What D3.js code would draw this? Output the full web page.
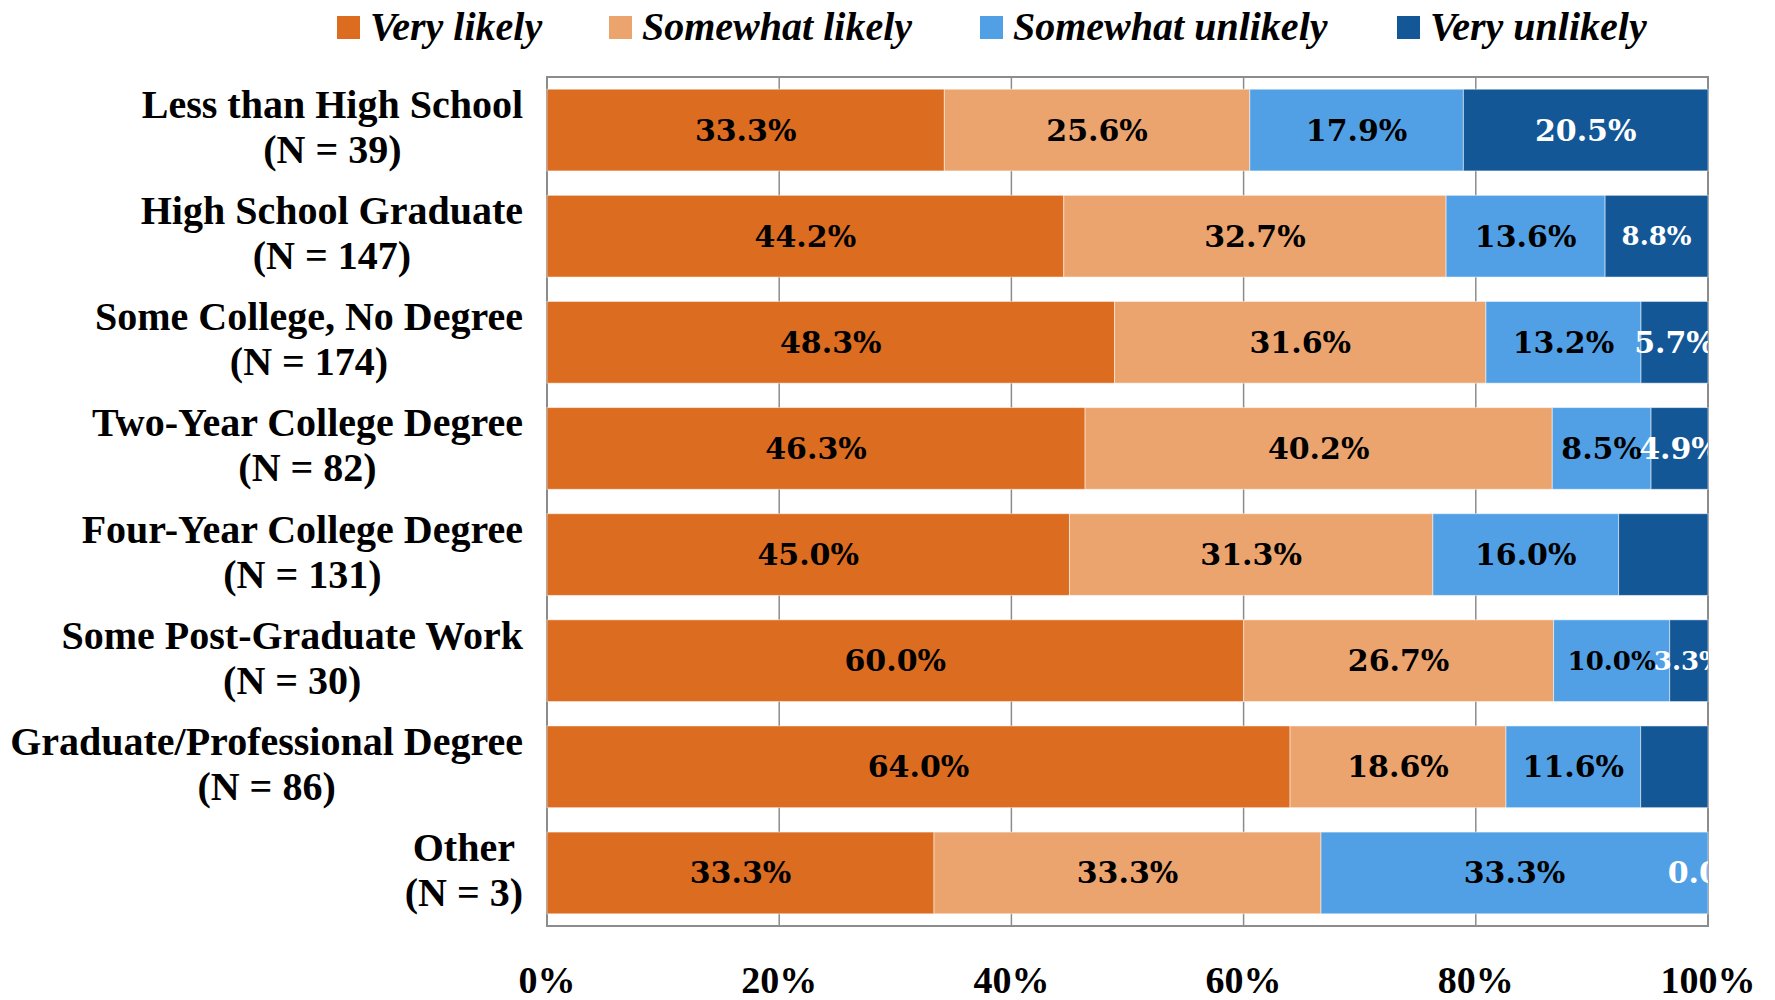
<!DOCTYPE html>
<html lang="en">
<head>
<meta charset="utf-8">
<title>Likelihood by education</title>
<style>
  body { margin: 0; background: #fff; }
  svg text { font-family: "Liberation Serif", "DejaVu Serif", serif; font-weight: bold; }
</style>
</head>
<body>
<div id="chart"></div>
<script src="https://d3js.org/d3.v7.min.js"></script>
<script>
// data
const categories = ["Less than High School", "High School Graduate", "Some College, No Degree",
  "Two-Year College Degree", "Four-Year College Degree", "Some Post-Graduate Work",
  "Graduate/Professional Degree", "Other"];
const counts = [39, 147, 174, 82, 131, 30, 86, 3];
const seriesNames = ["Very likely", "Somewhat likely", "Somewhat unlikely", "Very unlikely"];
const veryLikely       = [33.3, 44.2, 48.3, 46.3, 45.0, 60.0, 64.0, 33.3];
const somewhatLikely   = [25.6, 32.7, 31.6, 40.2, 31.3, 26.7, 18.6, 33.3];
const somewhatUnlikely = [17.9, 13.6, 13.2, 8.5, 16.0, 10.0, 11.6, 33.3];
const veryUnlikely     = [20.5, 8.8, 5.7, 4.9, 7.7, 3.3, 5.8, 0.0];
// labels that the original chart left off, and ones drawn a size smaller
const hiddenLabels = [[4, 3], [6, 3]];
const smallLabels = [[1, 3], [5, 2], [5, 3]];
const ticks = [0, 20, 40, 60, 80, 100];

const colors = ["#dc6c1f", "#eca46f", "#51a0e6", "#135797"];
const labelColors = ["#000", "#000", "#000", "#fff"];

const W = 1775, H = 1000;
const m = { left: 547, right: W - 1708, top: 77, bottom: H - 926 };

const svg = d3.select("#chart").append("svg").attr("width", W).attr("height", H);

const x = d3.scaleLinear().domain([0, 1]).range([m.left, W - m.right]);
const y = d3.scaleBand().domain(categories).range([m.top, H - m.bottom]).paddingInner(0.23).paddingOuter(0.115);

const series = [veryLikely, somewhatLikely, somewhatUnlikely, veryUnlikely];
const rows = categories.map((c, i) => {
  const r = { cat: c, i: i };
  seriesNames.forEach((s, k) => r[s] = series[k][i]);
  return r;
});
// 100% stacked: each row spans the full width
const stacked = d3.stack().keys(seriesNames).offset(d3.stackOffsetExpand)(rows);

// grid
svg.append("g").selectAll("line").data(ticks.slice(1, -1)).join("line")
  .attr("x1", d => x(d / 100)).attr("x2", d => x(d / 100))
  .attr("y1", m.top).attr("y2", H - m.bottom)
  .attr("stroke", "#8c8c8c").attr("stroke-width", 1.5);

// plot frame
svg.append("rect").attr("x", m.left).attr("y", m.top)
  .attr("width", x(1) - x(0)).attr("height", H - m.bottom - m.top)
  .attr("fill", "none").attr("stroke", "#8c8c8c").attr("stroke-width", 2);

// bars
const layers = svg.append("g").selectAll("g").data(stacked).join("g")
  .attr("fill", (d, k) => colors[k]);
layers.selectAll("rect").data(d => d).join("rect")
  .attr("x", d => x(d[0]))
  .attr("y", d => y(d.data.cat))
  .attr("width", d => x(d[1]) - x(d[0]))
  .attr("height", y.bandwidth())
  .attr("stroke", "#fff").attr("stroke-opacity", 0.5).attr("stroke-width", 1);

// data labels, clipped at the right edge of the plot
svg.append("clipPath").attr("id", "plotClip").append("rect")
  .attr("x", m.left).attr("y", m.top).attr("width", x(1) - m.left).attr("height", H - m.bottom - m.top);
const lab = svg.append("g").attr("clip-path", "url(#plotClip)");
const inList = (list, i, k) => list.some(h => h[0] === i && h[1] === k);
stacked.forEach((layer, k) => {
  layer.forEach((d, i) => {
    if (inList(hiddenLabels, i, k)) return;
    lab.append("text")
      .attr("x", (x(d[0]) + x(d[1])) / 2)
      .attr("y", y(d.data.cat) + y.bandwidth() / 2)
      .attr("dy", "0.35em")
      .attr("text-anchor", "middle")
      .attr("fill", labelColors[k])
      .style("font-family", "'DejaVu Serif', serif")
      .style("font-size", inList(smallLabels, i, k) ? "26px" : "30px")
      .text(series[k][i].toFixed(1) + "%");
  });
});

// category labels, two centred lines, right-aligned block
const catG = svg.append("g");
categories.forEach((c, i) => {
  const cy = y(c) + y.bandwidth() / 2;
  const g = catG.append("g");
  const t1 = g.append("text").attr("y", cy - 12).attr("text-anchor", "middle").style("font-size", "40px").text(c);
  const t2 = g.append("text").attr("y", cy + 33).attr("text-anchor", "middle").style("font-size", "40px").text("(N = " + counts[i] + ")");
  const w = Math.max(t1.node().getComputedTextLength(), t2.node().getComputedTextLength());
  const cx = 523 - w / 2;
  t1.attr("x", cx); t2.attr("x", cx);
});

// x axis tick labels
svg.append("g").selectAll("text").data(ticks).join("text")
  .attr("x", d => x(d / 100)).attr("y", 993)
  .attr("text-anchor", "middle")
  .style("font-size", "38px")
  .text(d => d + "%");

// legend
const legendX = [337, 609, 980, 1397];
const leg = svg.append("g").selectAll("g").data(seriesNames).join("g")
  .attr("transform", (d, k) => `translate(${legendX[k]},0)`);
leg.append("rect").attr("x", 0).attr("y", 16).attr("width", 23).attr("height", 23)
  .attr("fill", (d, k) => colors[k]);
leg.append("text").attr("x", 33).attr("y", 40)
  .style("font-size", "40px").style("font-style", "italic")
  .text(d => d);
</script>
</body>
</html>
